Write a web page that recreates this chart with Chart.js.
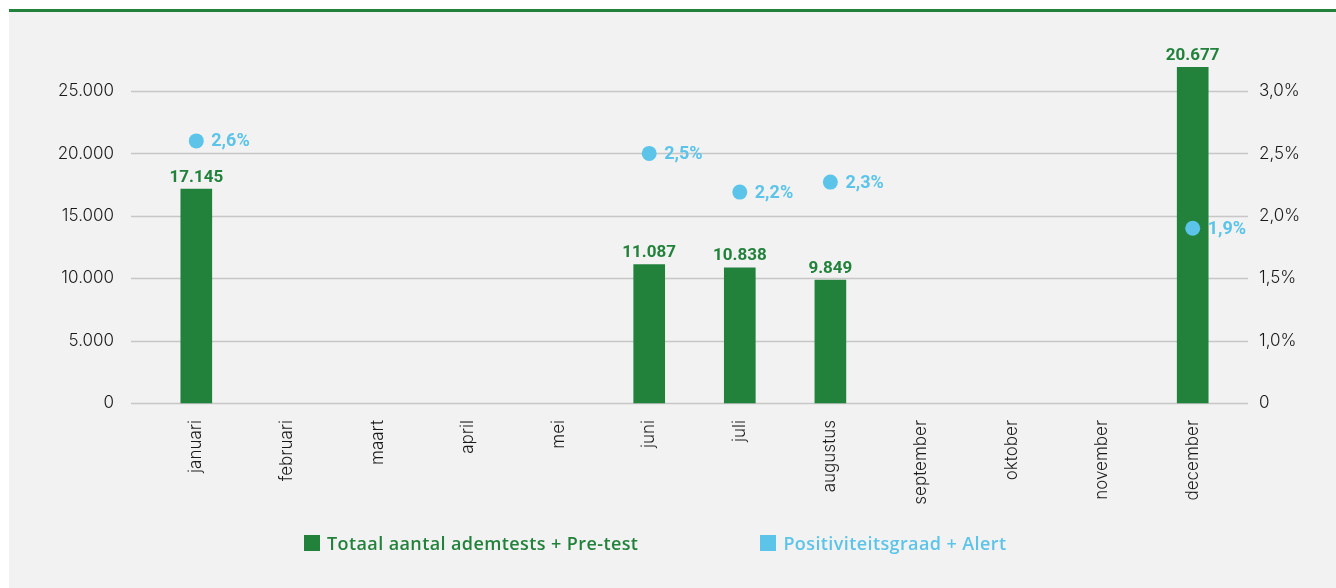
<!DOCTYPE html>
<html lang="nl">
<head>
<meta charset="utf-8">
<title>Ademtests per maand</title>
<script src="https://cdn.jsdelivr.net/npm/chart.js@4.4.1/dist/chart.umd.min.js"></script>
<style>
    html, body {
        margin: 0;
        padding: 0;
        background: #ffffff;
    }
    #panel {
        position: absolute;
        left: 9px;
        top: 9px;
        width: 1327px;
        height: 576px;
        border-top: 3px solid #22823c;
        background: #f2f2f2;
    }
    #chartWrap {
        position: absolute;
        left: 0;
        top: 0;
        width: 1327px;
        height: 576px;
    }
    #legend {
        position: absolute;
        top: 521px;
        left: 295px;
        display: flex;
        font-family: "Open Sans", sans-serif;
        font-weight: 600;
        font-size: 18px;
        letter-spacing: 0.4px;
    }
    .legend-item {
        display: flex;
        align-items: center;
        height: 20px;
    }
    .legend-box {
        width: 16px;
        height: 16px;
        margin-right: 7px;
    }
</style>
</head>
<body>
<div id="panel">
    <div id="chartWrap"><canvas id="ademChart"></canvas></div>
    <div id="legend"></div>
</div>
<script>
// Data
const months = ['januari', 'februari', 'maart', 'april', 'mei', 'juni',
    'juli', 'augustus', 'september', 'oktober', 'november', 'december'];

// bar heights as drawn (december bar is drawn higher than its label says)
const testBars = [17145, null, null, null, null, 11087, 10838, 9849, null, null, null, 26900];
// numbers printed above the bars
const testLabels = [17145, null, null, null, null, 11087, 10838, 9849, null, null, null, 20677];
// positivity rate in %
const positivity = [2.6, null, null, null, null, 2.5, 2.19, 2.27, null, null, null, 1.9];

const leftTicks = [0, 5000, 10000, 15000, 20000, 25000];
const rightTicks = [0.5, 1.0, 1.5, 2.0, 2.5, 3.0];

const seriesNames = ['Totaal aantal ademtests + Pre-test', 'Positiviteitsgraad + Alert'];

const GREEN = '#22823c';
const BLUE = '#5bc4e8';
const GRID = '#c7c7c7';
const TEXT = '#1a1a1a';

const fmtThousands = v => String(Math.round(v)).replace(/\B(?=(\d{3})+(?!\d))/g, '.');
const fmtPct = v => v.toFixed(1).replace('.', ',') + '%';

// horizontal gridlines reach a bit past the category band
const extendedGrid = {
    id: 'extendedGrid',
    beforeDatasetsDraw(chart, args, opts) {
        const { ctx, chartArea } = chart;
        const y = chart.scales.y;
        ctx.save();
        ctx.strokeStyle = GRID;
        ctx.lineWidth = 1.5;
        leftTicks.forEach(t => {
            const py = Math.round(y.getPixelForValue(t)) + 0.5;
            ctx.beginPath();
            ctx.moveTo(chartArea.left - opts.left, py);
            ctx.lineTo(chartArea.right + opts.right, py);
            ctx.stroke();
        });
        ctx.restore();
    }
};

// value labels above bars and next to the points
const valueLabels = {
    id: 'valueLabels',
    afterDatasetsDraw(chart) {
        const { ctx } = chart;
        ctx.save();

        const barMeta = chart.getDatasetMeta(0);
        ctx.font = '700 17px Roboto, sans-serif';
        ctx.fillStyle = GREEN;
        ctx.textAlign = 'center';
        ctx.textBaseline = 'bottom';
        barMeta.data.forEach((el, i) => {
            if (testLabels[i] == null) return;
            ctx.fillText(fmtThousands(testLabels[i]), el.x, el.y - 3);
        });

        const dotMeta = chart.getDatasetMeta(1);
        ctx.font = '700 18px Roboto, sans-serif';
        ctx.fillStyle = BLUE;
        ctx.textAlign = 'left';
        ctx.textBaseline = 'middle';
        dotMeta.data.forEach((el, i) => {
            if (positivity[i] == null) return;
            ctx.fillText(fmtPct(positivity[i]), el.x + 15, el.y + 1);
        });
        ctx.restore();
    }
};

const tickFont = { family: 'Inter, sans-serif', size: 17, weight: '300' };

const ctx = document.getElementById('ademChart').getContext('2d');
new Chart(ctx, {
    data: {
        labels: months,
        datasets: [
            {
                type: 'bar',
                label: seriesNames[0],
                data: testBars,
                backgroundColor: GREEN,
                barThickness: 31,
                yAxisID: 'y',
                clip: false,
                order: 2
            },
            {
                type: 'line',
                label: seriesNames[1],
                data: positivity,
                showLine: false,
                pointRadius: 7.5,
                pointHoverRadius: 7.5,
                pointBorderWidth: 0,
                pointBackgroundColor: BLUE,
                backgroundColor: BLUE,
                borderColor: BLUE,
                yAxisID: 'y1',
                clip: false,
                order: 1
            }
        ]
    },
    plugins: [extendedGrid, valueLabels],
    options: {
        responsive: true,
        maintainAspectRatio: false,
        animation: false,
        layout: {
            padding: { top: 79, bottom: 65, left: 0, right: 0 }
        },
        plugins: {
            legend: { display: false },
            tooltip: { enabled: false },
            extendedGrid: { left: 20, right: 10 }
        },
        scales: {
            x: {
                grid: { display: false, drawTicks: false },
                border: { display: false },
                ticks: {
                    color: TEXT,
                    font: tickFont,
                    minRotation: 90,
                    maxRotation: 90,
                    padding: 17
                },
                afterFit: scale => { scale.height = 120; }
            },
            y: {
                position: 'left',
                min: 0,
                max: 25000,
                grid: { display: false, drawTicks: false },
                border: { display: false },
                afterBuildTicks: scale => { scale.ticks = leftTicks.map(v => ({ value: v })); },
                ticks: {
                    color: TEXT,
                    font: tickFont,
                    padding: 37,
                    callback: v => fmtThousands(v)
                },
                afterFit: scale => { scale.width = 142; }
            },
            y1: {
                position: 'right',
                min: 0.5,
                max: 3.0,
                grid: { display: false, drawTicks: false },
                border: { display: false },
                afterBuildTicks: scale => { scale.ticks = rightTicks.map(v => ({ value: v })); },
                ticks: {
                    color: TEXT,
                    font: tickFont,
                    padding: 21,
                    callback: v => (v === rightTicks[0] ? '0' : fmtPct(v))
                },
                afterFit: scale => { scale.width = 98; }
            }
        }
    }
});

// legend built from the series names
const legendEl = document.getElementById('legend');
[GREEN, BLUE].forEach((color, i) => {
    const item = document.createElement('div');
    item.className = 'legend-item';
    item.style.color = color;
    item.style.marginRight = i === 0 ? '122px' : '0';
    const box = document.createElement('span');
    box.className = 'legend-box';
    box.style.background = color;
    const txt = document.createElement('span');
    txt.textContent = seriesNames[i];
    item.appendChild(box);
    item.appendChild(txt);
    legendEl.appendChild(item);
});
</script>
</body>
</html>
